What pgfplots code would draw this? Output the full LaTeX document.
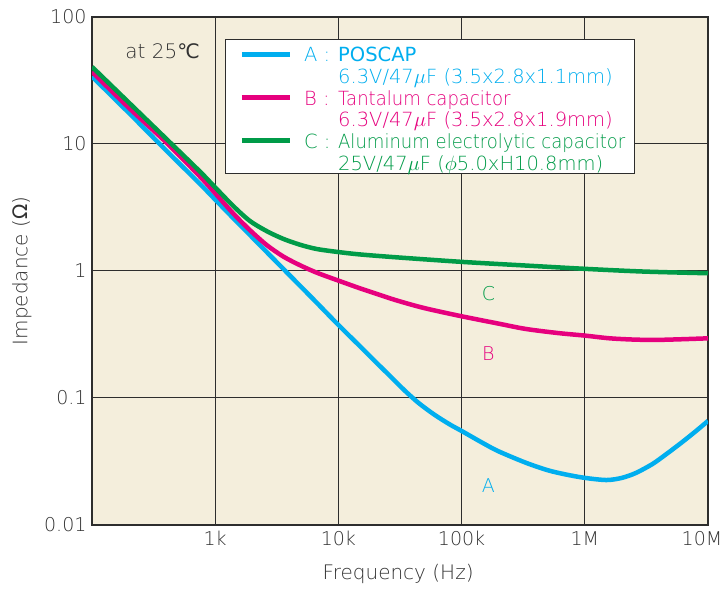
\documentclass[border=0pt]{standalone}
\usepackage{pgfplots}
\pgfplotsset{compat=1.18}
\usepackage{graphicx}
\usepackage{fontspec}
\setmainfont{DejaVu Sans ExtraLight}
\newfontfamily\symfont{DejaVu Sans}
\newcommand\nx[1]{\scalebox{0.925}[1]{#1}}
\definecolor{bgc}{RGB}{244,238,220}
\definecolor{gridc}{RGB}{45,45,45}
\definecolor{txtc}{RGB}{50,50,50}
\definecolor{cA}{RGB}{0,174,239}
\definecolor{cB}{RGB}{230,0,126}
\definecolor{cC}{RGB}{0,155,72}
\begin{document}
\begin{tikzpicture}
\useasboundingbox (0,0) rectangle (724pt,591pt);
\begin{axis}[
  at={(92pt,66pt)}, anchor=south west,
  scale only axis, width=616pt, height=508pt,
  xmode=log, ymode=log,
  xmin=100, xmax=1e7, ymin=0.01, ymax=100,
  axis background/.style={fill=bgc},
  grid=major,
  major grid style={draw=gridc, line width=1pt},
  axis line style={draw=gridc, line width=1.2pt},
  xminorticks=false, yminorticks=false,
  major tick length=0pt,
  xtick={1000,10000,100000,1000000,10000000},
  xticklabels={1k,10k,100k,1M,\hspace*{-12pt}10M},
  ytick={0.01,0.1,1,10,100},
  yticklabels={0.01,0.1,1,10,100},
  tick label style={font=\fontsize{19}{21}\selectfont, text=txtc},
  xticklabel style={yshift=-3pt},
  yticklabel style={xshift=-2pt},
  xlabel={Frequency (Hz)},
  ylabel={Impedance ({\symfont Ω})},
  every axis x label/.style={at={(axis description cs:0.497,-0.0965)}, anchor=center,
    font=\fontsize{20}{22}\selectfont, text=txtc},
  every axis y label/.style={at={(axis description cs:-0.114,0.5)}, anchor=center, rotate=90,
    font=\fontsize{20}{22}\selectfont, text=txtc},
  legend cell align=left,
  legend style={at={(0.216,0.957)}, anchor=north west, fill=white, draw=gridc, line width=1.2pt,
    font=\fontsize{19.5}{22}\selectfont, inner xsep=9pt, inner ysep=1.9pt, row sep=0pt, column sep=0pt,
    nodes={inner sep=0pt, text height=20.4pt, text depth=1.3pt}},
  legend image code/.code={\path (0pt,0pt) (65pt,0pt); \draw[#1, line width=5pt] (5pt,-2pt) -- (53pt,-2pt);},
  every axis plot/.append style={line width=4.5pt, smooth},
]
\addplot[cA] coordinates {
(100,34) (200,17.5) (400,8.9) (754,4.84) (1000,3.65) (1400,2.61) (2000,1.84) (2620,1.41)
(4000,0.93) (6250,0.60) (10000,0.376) (15000,0.255) (20000,0.193) (27000,0.145)
(35000,0.113) (45000,0.091) (60000,0.074) (80000,0.062) (100000,0.055) (150000,0.044)
(200000,0.038) (330000,0.031) (500000,0.027) (700000,0.025) (1000000,0.0235)
(1500000,0.0226) (2000000,0.0235) (2600000,0.0257) (3500000,0.030) (4300000,0.0345)
(6000000,0.044) (8000000,0.055) (10000000,0.066)};
\addlegendentry{\textcolor{cA}{\makebox[34pt][l]{A :}{\symfont POSCAP}}}
\addlegendimage{empty legend}
\addlegendentry{\textcolor{cA}{\hspace{34pt}6.3V/47$\mu$F (3.5x2.8x1.1mm)}}
\addplot[cB] coordinates {
(100,37) (200,19.2) (400,10.3) (754,5.53) (1000,4.09) (1400,2.84) (1910,2.10) (2620,1.60)
(3570,1.30) (4880,1.11) (6670,0.97) (10000,0.84) (15000,0.73) (20000,0.665) (30000,0.585)
(50000,0.51) (100000,0.44) (200000,0.385) (330000,0.35) (600000,0.325) (1000000,0.31)
(1600000,0.295) (2600000,0.288) (4000000,0.287) (6000000,0.29) (10000000,0.295)};
\addlegendentry{\textcolor{cB}{\makebox[34pt][l]{B :}\nx{Tantalum capacitor}}}
\addlegendimage{empty legend}
\addlegendentry{\textcolor{cB}{\hspace{34pt}6.3V/47$\mu$F (3.5x2.8x1.9mm)}}
\addplot[cC] coordinates {
(100,40.5) (200,21.1) (400,11.0) (754,6.05) (1000,4.55) (1400,3.25) (1910,2.48) (2620,2.06)
(3570,1.79) (4880,1.61) (6670,1.49) (10000,1.41) (15000,1.35) (30000,1.28)
(100000,1.18) (300000,1.11) (1000000,1.04) (3000000,0.99) (10000000,0.96)};
\addlegendentry{\textcolor{cC}{\makebox[34pt][l]{C :}\nx{Aluminum electrolytic capacitor}}}
\addlegendimage{empty legend}
\addlegendentry{\textcolor{cC}{\hspace{34pt}25V/47$\mu$F ($\phi$5.0xH10.8mm)}}
\node[font=\fontsize{19}{21}\selectfont, text=cC] at (axis cs:165000,0.66) {C};
\node[font=\fontsize{19}{21}\selectfont, text=cB] at (axis cs:165000,0.222) {B};
\node[font=\fontsize{19}{21}\selectfont, text=cA] at (axis cs:165000,0.0203) {A};
\node[font=\fontsize{20}{22}\selectfont, text=txtc, anchor=west] at (axis cs:175,54) {at 25{\symfont ℃}};
\end{axis}
\end{tikzpicture}
\end{document}
